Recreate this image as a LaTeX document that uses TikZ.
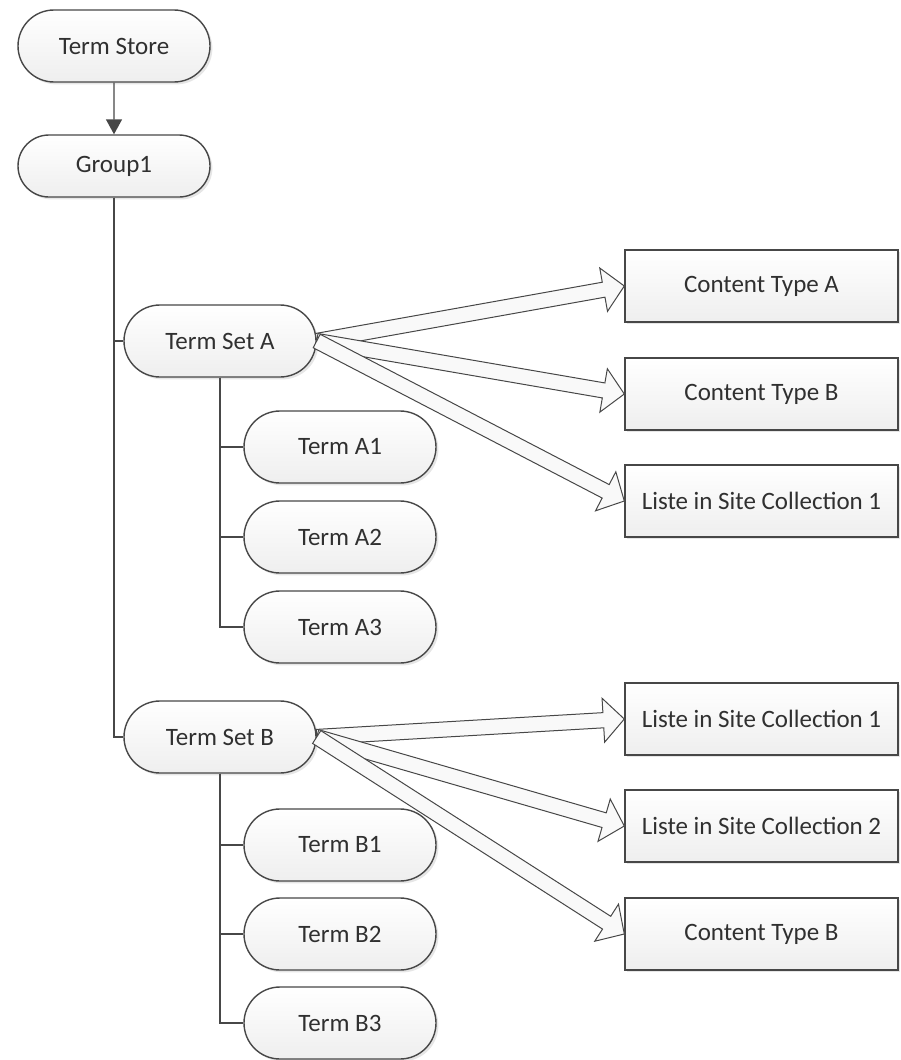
\documentclass[tikz,border=0pt]{standalone}
\usepackage{fontspec}
\setmainfont{Carlito}
\usetikzlibrary{shapes.misc,arrows.meta,calc,shadows}
\definecolor{edgegray}{HTML}{474747}
\definecolor{textgray}{HTML}{303030}
\tikzset{
  termnode/.style={rounded rectangle,draw=edgegray,line width=0.7pt,
    top color=white,bottom color=gray!13,text=textgray,inner sep=0pt,
    minimum width=96pt,minimum height=36pt,
    drop shadow={opacity=0.2,shadow xshift=1.2pt,shadow yshift=-1.2pt}},
  targetbox/.style={rectangle,draw=edgegray,line width=0.7pt,
    top color=white,bottom color=gray!13,text=textgray,inner sep=0pt,
    minimum width=136.5pt,minimum height=36pt,
    drop shadow={opacity=0.2,shadow xshift=1.2pt,shadow yshift=-1.2pt}},
  treeline/.style={draw=edgegray,line width=0.7pt},
  linkarrow/.style={draw=edgegray,line width=0.5pt,fill=gray!5},
  every picture/.style={font=\fontsize{12.5}{15}\selectfont}
}
% hollow block arrow from #1 to #2
\newcommand{\linkarrow}[2]{%
  \coordinate (headbase) at ($(#2)!10.5pt!(#1)$);
  \draw[linkarrow] ($(#1)!3.8pt!90:(#2)$) -- ($(headbase)!3.8pt!90:(#2)$)
    -- ($(headbase)!11pt!90:(#2)$) -- (#2) -- ($(headbase)!11pt!-90:(#2)$)
    -- ($(headbase)!3.8pt!-90:(#2)$) -- ($(#1)!3.8pt!-90:(#2)$) -- cycle;}

\begin{document}
\begin{tikzpicture}[x=0.5pt,y=-0.5pt]
  \useasboundingbox (0,0) rectangle (900,1060);
  % term hierarchy
  \node[termnode] (store) at (114,46) {Term Store};
  \node[termnode,minimum height=31pt] (group1) at (114,166) {Group1};
  \node[termnode] (tsa) at (220,341) {Term Set A};
  \node[termnode] (ta1) at (340,447) {Term A1};
  \node[termnode] (ta2) at (340,537) {Term A2};
  \node[termnode] (ta3) at (340,627) {Term A3};
  \node[termnode] (tsb) at (220,737) {Term Set B};
  \node[termnode] (tb1) at (340,845) {Term B1};
  \node[termnode] (tb2) at (340,934) {Term B2};
  \node[termnode] (tb3) at (340,1023) {Term B3};
  % usage targets
  \node[targetbox] (cta) at (761.5,286) {Content Type A};
  \node[targetbox] (ctb) at (761.5,394) {Content Type B};
  \node[targetbox] (lsa) at (761.5,501) {Liste in Site Collection 1};
  \node[targetbox] (lsb1) at (761.5,719) {Liste in Site Collection 1};
  \node[targetbox] (lsb2) at (761.5,826) {Liste in Site Collection 2};
  \node[targetbox] (ctbb) at (761.5,934) {Content Type B};

  \draw[treeline,-{Triangle[length=7.5pt,width=8pt]}] (store) -- (group1);
  \draw[treeline] (group1.south) |- (tsa.west);
  \draw[treeline] (group1.south) |- (tsb.west);
  \foreach \t in {ta1,ta2,ta3}
    \draw[treeline] (tsa.south) |- (\t.west);
  \foreach \t in {tb1,tb2,tb3}
    \draw[treeline] (tsb.south) |- (\t.west);

  \foreach \t in {cta,ctb,lsa}{
    \linkarrow{tsa.east}{\t.west}
  }
  \foreach \t in {lsb1,lsb2,ctbb}{
    \linkarrow{tsb.east}{\t.west}
  }
\end{tikzpicture}
\end{document}
